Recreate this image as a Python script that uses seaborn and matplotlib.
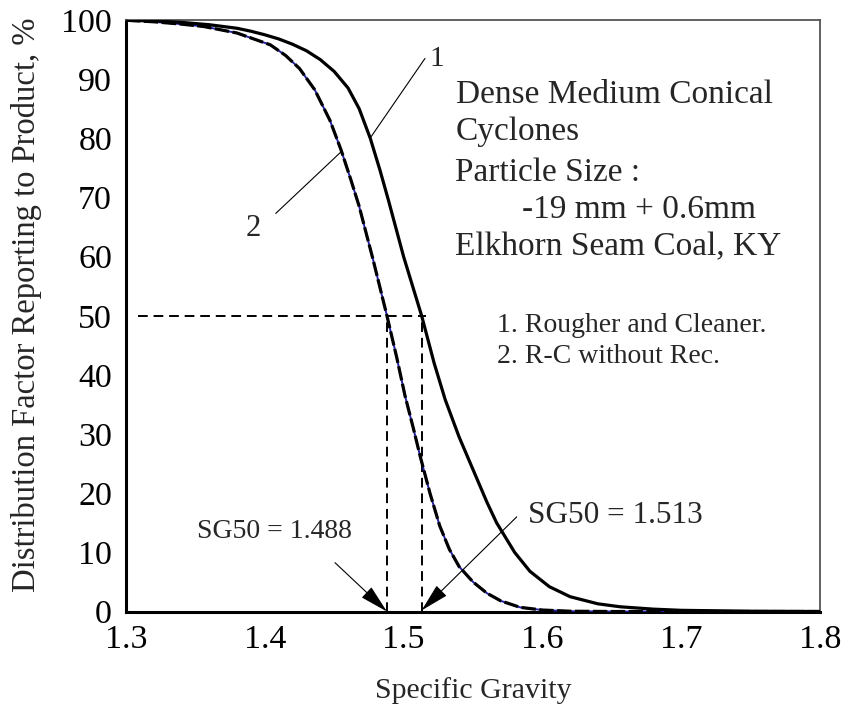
import matplotlib
matplotlib.use("Agg")
import matplotlib.pyplot as plt
import seaborn as sns
import pandas as pd

# ---- data ----
sg_curve1 = [1.30, 1.32, 1.34, 1.36, 1.38, 1.39, 1.40, 1.41, 1.42, 1.43, 1.44, 1.45, 1.46,
             1.468, 1.476, 1.483, 1.489, 1.50, 1.513, 1.522, 1.530, 1.540, 1.550, 1.560,
             1.567, 1.580, 1.591, 1.605, 1.620, 1.640, 1.656, 1.68, 1.70, 1.75, 1.80]
df_curve1 = [99.95, 99.85, 99.6, 99.2, 98.6, 98.1, 97.5, 96.8, 95.9, 94.8, 93.3, 91.3, 88.5,
             85.0, 80.0, 74.6, 69.6, 60.0, 50.0, 42.0, 35.8, 29.5, 24.0, 18.5,
             15.0, 10.0, 6.8, 4.2, 2.5, 1.3, 0.8, 0.4, 0.2, 0.05, 0.0]

sg_curve2 = [1.30, 1.32, 1.34, 1.356, 1.38, 1.404, 1.415, 1.425, 1.436, 1.447, 1.455,
             1.462, 1.468, 1.478, 1.488, 1.495, 1.501, 1.507, 1.512, 1.519, 1.526, 1.533,
             1.54, 1.55, 1.56, 1.57, 1.584, 1.60, 1.62, 1.65, 1.80]
df_curve2 = [99.95, 99.7, 99.3, 98.9, 97.8, 95.8, 94.0, 91.8, 88.2, 83.0, 78.0,
             73.0, 68.5, 59.5, 50.0, 43.0, 36.5, 31.0, 26.2, 20.0, 14.5, 10.5,
             7.6, 5.0, 3.1, 1.8, 0.7, 0.25, 0.05, 0.0, 0.0]

sg50_values = [1.488, 1.513]
sg50_labels = ["SG50 = 1.488", "SG50 = 1.513"]
x_ticks = [1.3, 1.4, 1.5, 1.6, 1.7, 1.8]
y_ticks = [0, 10, 20, 30, 40, 50, 60, 70, 80, 90, 100]

title_lines = ["Dense Medium Conical", "Cyclones", "Particle Size :",
               "-19 mm + 0.6mm", "Elkhorn Seam Coal, KY"]
legend_lines = ["1. Rougher and Cleaner.", "2. R-C without Rec."]

# ---- style ----
sns.set_style("white")
plt.rcParams['font.family'] = ['Liberation Serif', 'DejaVu Serif']

fig = plt.figure(figsize=(8.46, 7.09), dpi=100)
ax = fig.add_axes([0.1489, 0.1375, 0.8204, 0.8343])

d1 = pd.DataFrame({"SG": sg_curve1, "DF": df_curve1})
d2 = pd.DataFrame({"SG": sg_curve2, "DF": df_curve2})

sns.lineplot(data=d1, x="SG", y="DF", ax=ax, color="black", lw=2.3, sort=False, zorder=4)
# curve 2: thin blue underlay + black dashes
sns.lineplot(data=d2, x="SG", y="DF", ax=ax, color="#2020a0", lw=1.4, sort=False, zorder=3)
sns.lineplot(data=d2, x="SG", y="DF", ax=ax, color="black", lw=2.3, sort=False, zorder=4)
ax.lines[-1].set_dashes((4.5, 1.1))

# reference dashed lines at 50%
ax.plot([1.309, sg50_values[1] + 0.003], [50, 50], color="black", lw=1.4,
        dashes=(5, 3), zorder=2)
for v in sg50_values:
    ax.plot([v, v], [0, 50], color="black", lw=1.4, dashes=(5, 3), zorder=2)

ax.set_xlim(1.3, 1.8)
ax.set_ylim(0, 100)
ax.set_xticks(x_ticks)
ax.set_yticks(y_ticks)
ax.set_xticklabels([f"{t:.1f}" for t in x_ticks])
ax.set_yticklabels([str(t) for t in y_ticks])
ax.tick_params(direction="in", length=14, width=1.2, labelsize=24.5, colors="black")
ax.tick_params(axis="x", pad=9)
ax.tick_params(axis="y", pad=10)
ax.set_xlabel("Specific Gravity", fontsize=21.5)
ax.set_ylabel("Distribution Factor Reporting to Product, %", fontsize=23.5)
ax.xaxis.set_label_coords(0.5, -0.11)
ax.yaxis.set_label_coords(-0.121, 0.518)

for s in ["left", "bottom"]:
    ax.spines[s].set_linewidth(2.2)
    ax.spines[s].set_color("black")
for s in ["top", "right"]:
    ax.spines[s].set_linewidth(1.3)
    ax.spines[s].set_color("#555555")

# text block
title_pos = [(1.5378, 86.0), (1.5378, 79.7), (1.537, 72.8), (1.5851, 66.5), (1.537, 60.3)]
for t, (x, y) in zip(title_lines, title_pos):
    ax.text(x, y, t, fontsize=24, va="baseline", ha="left")
for t, y in zip(legend_lines, [47.3, 42.0]):
    ax.text(1.567, y, t, fontsize=20, va="baseline", ha="left")

# curve labels with leader lines
ax.text(1.524, 93.4, "1", fontsize=21, ha="center", va="center")
ax.plot([1.5154, 1.4758], [93.5, 80.0], color="black", lw=0.8)
ax.text(1.3915, 64.8, "2", fontsize=22, ha="center", va="center")
ax.plot([1.4079, 1.4549], [67.3, 77.7], color="black", lw=0.8)

# SG50 annotations
arrowprops = dict(arrowstyle="-|>,head_length=1.8,head_width=0.45", color="black",
                  lw=0.8, shrinkA=0, shrinkB=0)
ax.annotate("", xy=(sg50_values[0], 0), xytext=(1.4506, 8.25), arrowprops=arrowprops)
ax.annotate("", xy=(sg50_values[1], 0.2), xytext=(1.5815, 16.0), arrowprops=arrowprops)
ax.text(1.351, 12.4, sg50_labels[0], fontsize=20, va="baseline", ha="left")
ax.text(1.5898, 14.9, sg50_labels[1], fontsize=22.5, va="baseline", ha="left")

fig.savefig("out.png", dpi=100)
